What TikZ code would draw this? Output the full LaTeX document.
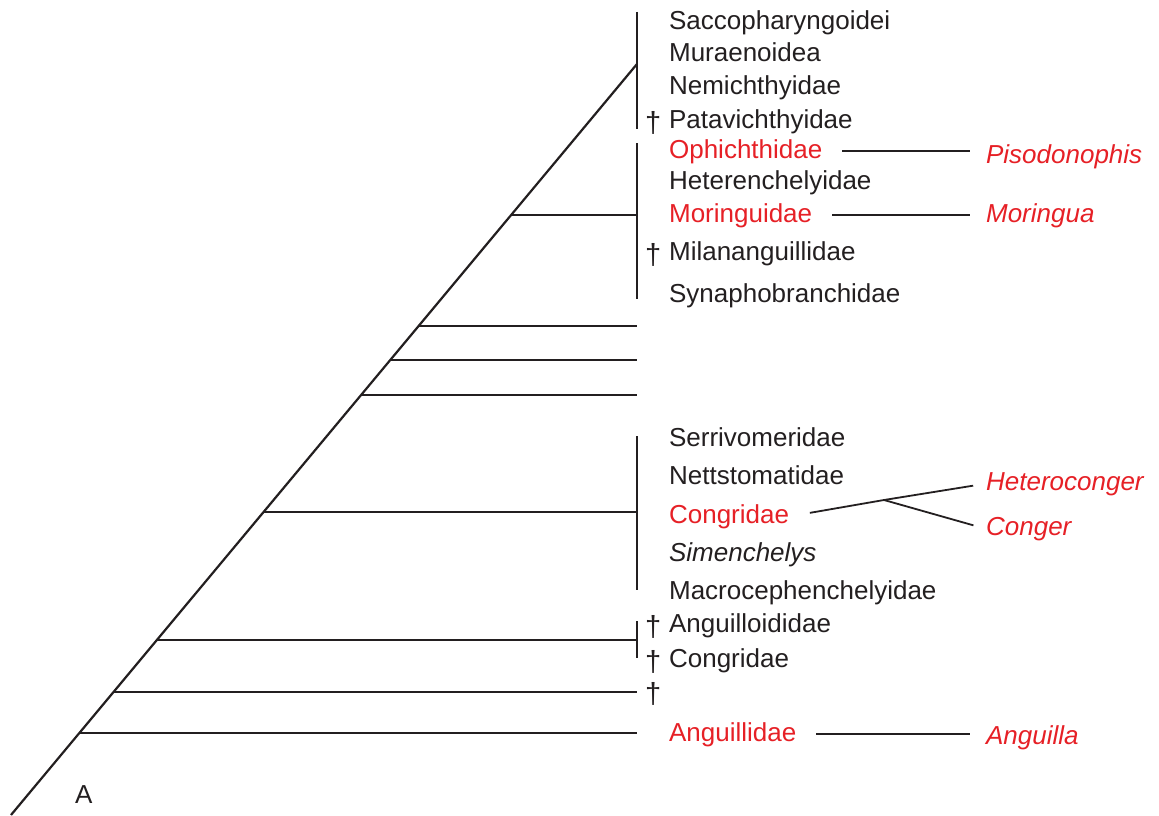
\documentclass[tikz,border=0pt]{standalone}
\usepackage{fontspec}
\setmainfont{Liberation Sans}
\definecolor{taxred}{RGB}{230,32,38}
\definecolor{ink}{RGB}{35,31,32}
\tikzset{
  taxon/.style={anchor=base west, inner sep=0pt, text=ink, font=\fontsize{26}{30}\selectfont},
  famred/.style={taxon, text=taxred},
  genus/.style={taxon, text=taxred, font=\fontsize{26}{30}\selectfont\itshape},
  fossil/.style={taxon, font=\fontsize{29}{30}\selectfont},
  twig/.style={shorten <=19pt, shorten >=15pt}
}
\begin{document}
\begin{tikzpicture}[x=1pt,y=-1pt,line width=2.2pt,draw=ink]
\useasboundingbox (0,0) rectangle (1159,816);

%Stamm
\coordinate (root) at (11,815);
\coordinate (apex) at (637,64);
\draw (root) -- (apex);

%Aeste
\foreach \n/\x/\y in {b1/511/215, b2/419/326, b3/390/360, b4/361/395, b5/263/512, b6/157/640, b7/114/692, b8/80/733}
{
	\coordinate (\n-l) at (\x,\y);
	\coordinate (\n-r) at (637,\y);
	\draw (\n-l) -- (\n-r);
}

%Gruppen
\foreach \n/\ya/\yb in {g1/12/129, g2/143/299, g3/436/590, g4/621/658}
{
	\coordinate (\n-t) at (637,\ya);
	\coordinate (\n-b) at (637,\yb);
	\draw (\n-t) -- (\n-b);
}

%Familien
\foreach \n/\y/\t in
{
sac/30/Saccopharyngoidei,
mur/62/Muraenoidea,
nem/94/Nemichthyidae,
pat/128/Patavichthyidae,
het/189/Heterenchelyidae,
mil/260/Milananguillidae,
syn/302/Synaphobranchidae,
ser/446/Serrivomeridae,
net/484/Nettstomatidae,
mac/599/Macrocephenchelyidae,
agd/632/Anguilloididae,
cgf/667/Congridae
}
{
	\node[taxon] (\n) at (668,\y) {\t};
}
\node[taxon, font=\fontsize{26}{30}\selectfont\itshape] (sim) at (668,561) {Simenchelys};
\node[famred] (oph) at (668,158) {Ophichthidae};
\node[famred] (mor) at (668,222) {Moringuidae};
\node[famred] (cgr) at (668,523) {Congridae};
\node[famred] (ang) at (668,741) {Anguillidae};

%Fossilien
\foreach \n/\y in {d1/132, d2/264, d3/636, d4/671, d5/703}
{
	\node[fossil] (\n) at (644,\y) {†};
}

%Gattungen
\node[genus] (piso) at (985,163) {Pisodonophis};
\node[genus] (mori) at (985,222) {Moringua};
\node[genus] (hcon) at (985,490) {Heteroconger};
\node[genus] (cong) at (985,535) {Conger};
\node[genus] (angu) at (985,744) {Anguilla};

\draw[twig] (oph.east) -- (oph.east -| piso.west);
\draw[twig] (mor.east) -- (mor.east -| mori.west);
\draw[twig] (ang.east) -- (ang.east -| angu.west);
\coordinate (jct) at (884,500);
\draw[line width=1.8pt, shorten <=20pt, shorten >=12pt] (cgr.east) -- (jct) -- (hcon.west);
\draw[line width=1.8pt, shorten >=12pt] (jct) -- (cong.west);

\node[taxon] (lblA) at (74,803) {A};

\end{tikzpicture}
\end{document}
